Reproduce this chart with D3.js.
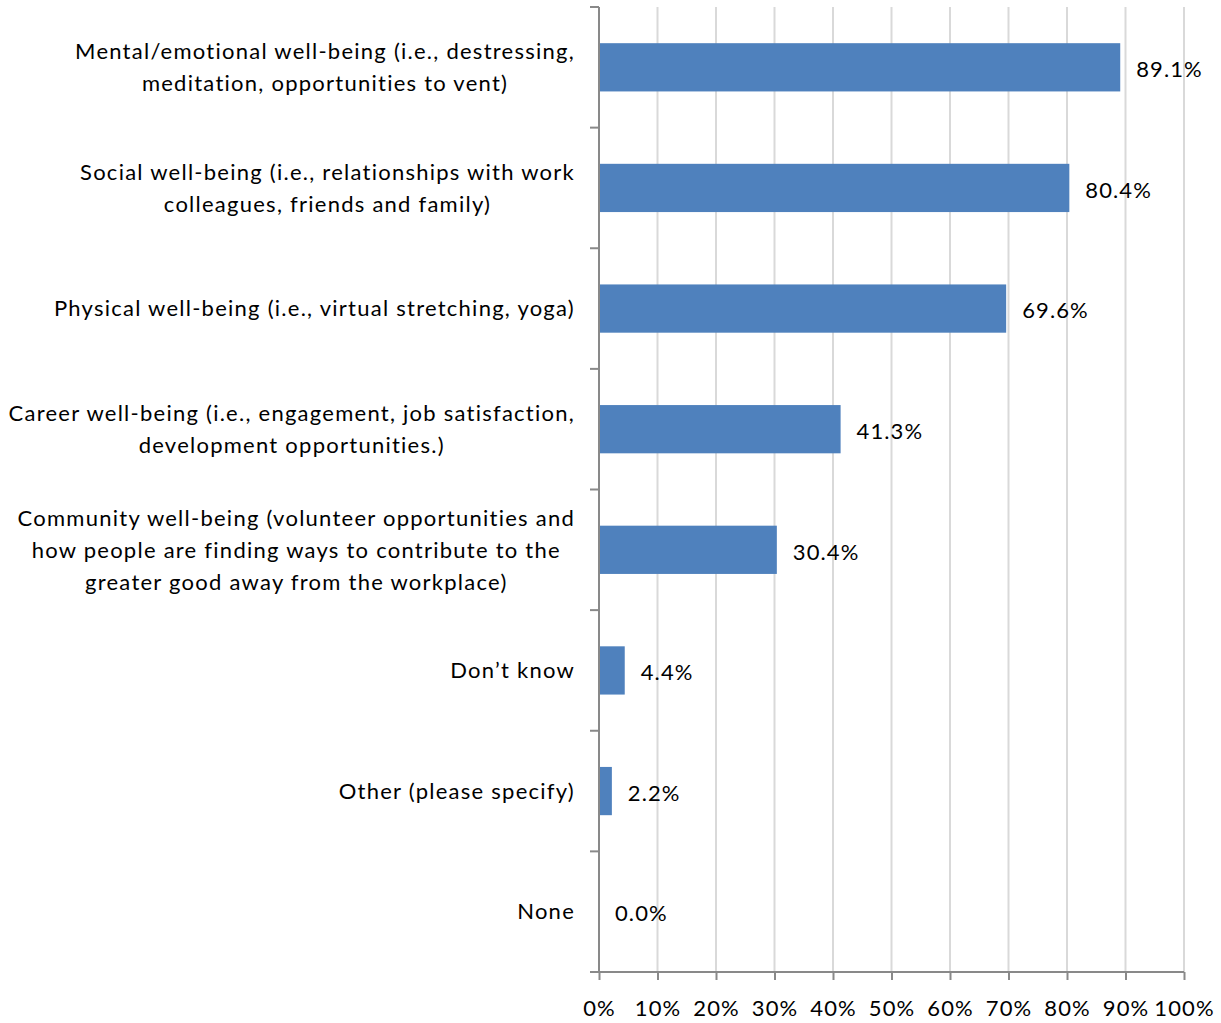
<!DOCTYPE html>
<html><head><meta charset="utf-8">
<script src="https://cdn.jsdelivr.net/npm/d3@7"></script>
<style>body{margin:0;background:#fff;} text{font-family:Lato, "Open Sans", sans-serif;fill:#000;}</style>
</head><body>
<svg id="c" width="1221" height="1023"></svg>
<script>
const categories = [
  ["Mental/emotional well-being (i.e., destressing,", "meditation, opportunities to vent)"],
  ["Social well-being (i.e., relationships with work", "colleagues, friends and family)"],
  ["Physical well-being (i.e., virtual stretching, yoga)"],
  ["Career well-being (i.e., engagement, job satisfaction,", "development opportunities.)"],
  ["Community well-being (volunteer opportunities and", "how people are finding ways to contribute to the", "greater good away from the workplace)"],
  ["Don’t know"],
  ["Other (please specify)"],
  ["None"]
];
const values = [89.1, 80.4, 69.6, 41.3, 30.4, 4.4, 2.2, 0.0];
const ticks = [0,10,20,30,40,50,60,70,80,90,100];

const FS = 22, LS = "1.1px", LSC = "1.25px";
const svg = d3.select("#c");
const pL = 599, pR = 1184, pT = 7, pB = 972;
const x = d3.scaleLinear().domain([0,100]).range([pL,pR]);
const y = d3.scaleBand().domain(d3.range(categories.length)).range([pT,pB]).paddingInner(0.6).paddingOuter(0.3);
const yb = d3.scaleBand().domain(d3.range(categories.length)).range([pT,pB]);

// gridlines
svg.append("g").selectAll("line").data(ticks.slice(1)).join("line")
  .attr("x1",d=>x(d)).attr("x2",d=>x(d)).attr("y1",pT).attr("y2",pB)
  .attr("stroke","#d9d9d9").attr("stroke-width",2);

// bars
svg.append("g").selectAll("rect").data(values).join("rect")
  .attr("x",x(0)).attr("y",(d,i)=>y(i)).attr("width",d=>x(d)-x(0)).attr("height",y.bandwidth())
  .attr("fill","#4f81bd");

// value labels
svg.append("g").selectAll("text").data(values).join("text")
  .attr("x",d=>x(d)+16).attr("y",(d,i)=>y(i)+y.bandwidth()/2+2).attr("dy","0.35em")
  .attr("font-size",FS).attr("letter-spacing",LS).text(d=>d.toFixed(1)+"%");

// x axis
const xa = svg.append("g").attr("transform",`translate(0,${pB})`)
  .call(d3.axisBottom(x).tickValues(ticks).tickSize(8).tickFormat(d=>d+"%"));
xa.select(".domain").attr("stroke","#898989").attr("stroke-width",2).attr("d",`M${pL},0H${pR}`);
xa.selectAll(".tick line").attr("stroke","#898989").attr("stroke-width",2);
xa.selectAll(".tick text").attr("font-size",FS).attr("letter-spacing",LS).attr("dy",0).attr("y",44).attr("fill","#000")
  .style("font-family","Lato, sans-serif");

// y axis
const bounds = d3.range(categories.length+1).map(i=> i<categories.length ? yb(i) : pB);
svg.append("line").attr("x1",pL).attr("x2",pL).attr("y1",pT).attr("y2",pB)
  .attr("stroke","#898989").attr("stroke-width",2);
svg.append("g").selectAll("line").data(bounds).join("line")
  .attr("x1",pL-9).attr("x2",pL).attr("y1",d=>d).attr("y2",d=>d)
  .attr("stroke","#898989").attr("stroke-width",2);

// category labels (lines centred, block right-aligned)
const lh = 32, rightEdge = 575;
const lg = svg.append("g");
categories.forEach((lines,i)=>{
  const cy = yb(i)+yb.bandwidth()/2;
  const t = lg.append("text").attr("text-anchor","middle").attr("font-size",FS).attr("letter-spacing",LSC);
  const spans = lines.map((ln,j)=> t.append("tspan").attr("y",cy + (j-(lines.length-1)/2)*lh).attr("dy","0.35em").text(ln));
  const maxw = d3.max(spans, s=>s.node().getComputedTextLength());
  spans.forEach(s=>s.attr("x", rightEdge - maxw/2));
});
</script>
</body></html>
